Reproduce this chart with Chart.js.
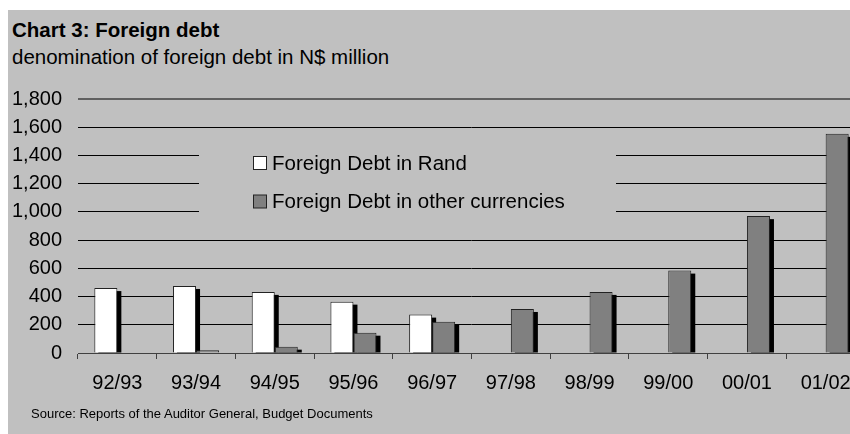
<!DOCTYPE html>
<html>
<head>
<meta charset="utf-8">
<script src="https://cdn.jsdelivr.net/npm/chart.js@4.4.1/dist/chart.umd.min.js"></script>
<style>
  html,body{margin:0;padding:0;width:850px;height:434px;overflow:hidden;background:#fff;}
  body{position:relative;font-family:"Liberation Sans",Arial,sans-serif;color:#000;}
  #bg{position:absolute;left:8px;top:10px;width:842px;height:424px;background:#c0c0c0;}
  .txt{position:absolute;white-space:nowrap;}
  #title{left:12px;top:18px;font-size:20.5px;font-weight:bold;line-height:23px;}
  #sub{left:12px;top:45px;font-size:20.5px;line-height:23px;}
  #src{left:31px;top:406px;font-size:13px;line-height:15px;}
  #wrap{position:absolute;left:0;top:80px;width:880px;height:354px;}
</style>
</head>
<body>
<div id="bg"></div>
<div class="txt" id="title">Chart 3: Foreign debt</div>
<div class="txt" id="sub">denomination of foreign debt in N$ million</div>
<div id="wrap"><canvas id="c" width="880" height="354"></canvas></div>
<div class="txt" id="src">Source: Reports of the Auditor General, Budget Documents</div>
<script>
// financial years
const years=['92/93','93/94','94/95','95/96','96/97','97/98','98/99','99/00','00/01','01/02'];
// N$ million
const debtRand=[460,475,433,364,272,null,null,null,null,null];
const debtOther=[null,20,45,144,222,312,433,584,970,1553];
const yTicks=[0,200,400,600,800,1000,1200,1400,1600,1800];

const BG='#c0c0c0';
Chart.defaults.font.family='"Liberation Sans", Arial, sans-serif';
Chart.defaults.font.size=20;
Chart.defaults.color='#000';

// black drop shadow behind every bar (old Excel 3D look)
const barShadow={
  id:'barShadow',
  beforeDatasetsDraw(chart){
    const ctx=chart.ctx;
    ctx.save();
    ctx.fillStyle='#000';
    chart.data.datasets.forEach((ds,i)=>{
      chart.getDatasetMeta(i).data.forEach(el=>{
        if(el.skip||!isFinite(el.y)) return;
        const l=el.x-el.width/2+4, t=el.y+3;
        if(el.base-t>0) ctx.fillRect(l,t,el.width,el.base-t);
      });
    });
    ctx.restore();
  }
};

// legend box sitting inside the plot, hiding the gridlines behind it
const innerLegend={
  id:'innerLegend',
  beforeDatasetsDraw(chart){
    const ctx=chart.ctx, a=chart.chartArea;
    const bx=a.left+121, by=a.top+36;
    ctx.save();
    ctx.fillStyle=BG;
    ctx.fillRect(bx,by,417,90);
    ctx.font='20.5px "Liberation Sans", Arial, sans-serif';
    ctx.textBaseline='middle';
    chart.data.datasets.forEach((ds,i)=>{
      const cy=by+28+i*38.5;
      ctx.fillStyle=ds.backgroundColor;
      ctx.fillRect(bx+54.5,cy-6.5,13,13);
      ctx.strokeStyle='#222'; ctx.lineWidth=1;
      ctx.strokeRect(bx+54.5,cy-6.5,13,13);
      ctx.fillStyle='#000';
      ctx.fillText(ds.label,bx+73,cy+1);
    });
    ctx.restore();
  }
};

new Chart(document.getElementById('c'),{
  type:'bar',
  data:{
    labels:years,
    datasets:[
      {label:'Foreign Debt in Rand',data:debtRand,backgroundColor:'#ffffff',
       borderColor:'#222',borderWidth:1,borderSkipped:'bottom'},
      {label:'Foreign Debt in other currencies',data:debtOther,backgroundColor:'#808080',
       borderColor:'#222',borderWidth:1,borderSkipped:'bottom'}
    ]
  },
  options:{
    responsive:false,animation:false,
    categoryPercentage:0.585,barPercentage:1,
    layout:{autoPadding:false,padding:{left:12,right:15,top:19,bottom:39}},
    plugins:{legend:{display:false},tooltip:{enabled:false}},
    scales:{
      x:{
        afterFit:s=>{s.height=42;},
        grid:{drawOnChartArea:false,drawTicks:true,tickLength:6,color:'#404040'},
        border:{display:true,color:'#404040',width:1},
        ticks:{padding:12,maxRotation:0,autoSkip:false}
      },
      y:{
        min:0,max:1800,
        afterBuildTicks:s=>{s.ticks=yTicks.map(v=>({value:v}));},
        afterFit:s=>{s.width=66; s.paddingTop=0; s.paddingBottom=0;},
        grid:{drawTicks:false,tickLength:0,
          color:c=>c.tick.value===1800?'#606060':(c.tick.value===0?'#404040':'#000'),
          lineWidth:c=>c.tick.value===1800?2:1},
        border:{display:false},
        ticks:{padding:16,autoSkip:false,callback:v=>v.toLocaleString('en-US')}
      }
    }
  },
  plugins:[barShadow,innerLegend]
});
</script>
</body>
</html>
